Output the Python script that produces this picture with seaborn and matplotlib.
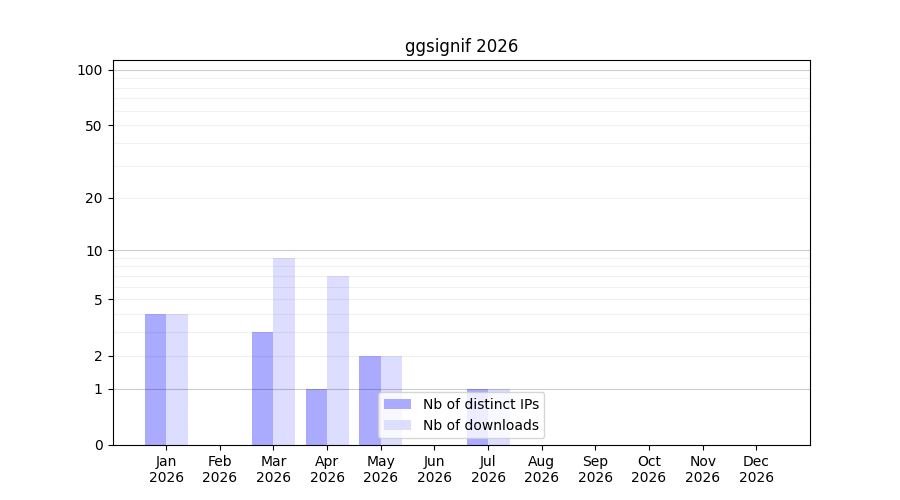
import numpy as np
import pandas as pd
import matplotlib
matplotlib.use("Agg")
import matplotlib.pyplot as plt
import seaborn as sns

months = ["Jan", "Feb", "Mar", "Apr", "May", "Jun", "Jul", "Aug", "Sep", "Oct", "Nov", "Dec"]
year = "2026"
distinct_ips = [4, 0, 3, 1, 2, 0, 1, 0, 0, 0, 0, 0]
downloads = [4, 0, 9, 7, 2, 0, 1, 0, 0, 0, 0, 0]
series_names = ["Nb of distinct IPs", "Nb of downloads"]
series_colors = ["#aaaaff", "#ddddff"]
ytick_values = [0, 1, 2, 5, 10, 20, 50, 100]
major_grid = [1, 10, 100]
minor_grid = [2, 3, 4, 5, 6, 7, 8, 9, 20, 30, 40, 50, 60, 70, 80, 90]

labels = [f"{m}\n{year}" for m in months]
df = pd.DataFrame({
    "month": labels * 2,
    "value": distinct_ips + downloads,
    "series": [series_names[0]] * 12 + [series_names[1]] * 12,
})

plt.rcParams['font.family'] = ['DejaVu Sans']
fig, ax = plt.subplots(figsize=(9, 5), dpi=100)
ax.set_yscale('function', functions=(lambda x: np.log10(1 + np.maximum(x, 0)),
                                     lambda y: 10 ** y - 1))
sns.barplot(data=df, x="month", y="value", hue="series", order=labels,
            hue_order=series_names, palette=series_colors, saturation=1,
            width=0.8, ax=ax, linewidth=0)

for v in minor_grid:
    ax.axhline(v, color="k", alpha=0.06, lw=0.8, zorder=3)
for v in major_grid:
    ax.axhline(v, color="k", alpha=0.2, lw=0.8, zorder=3)

ax.set_ylim(0, 113)
ax.set_xlim(-1, 12)
ax.set_yticks(ytick_values)
ax.set_yticklabels([str(v) for v in ytick_values])
ax.yaxis.set_minor_locator(matplotlib.ticker.NullLocator())
ax.set_xlabel("")
ax.set_ylabel("")
ax.set_title("ggsignif 2026", fontsize=12)
ax.legend(loc="lower center", title=None)
fig.subplots_adjust(left=0.125, right=0.9, top=0.88, bottom=0.11)
fig.savefig("out.png", dpi=100)
